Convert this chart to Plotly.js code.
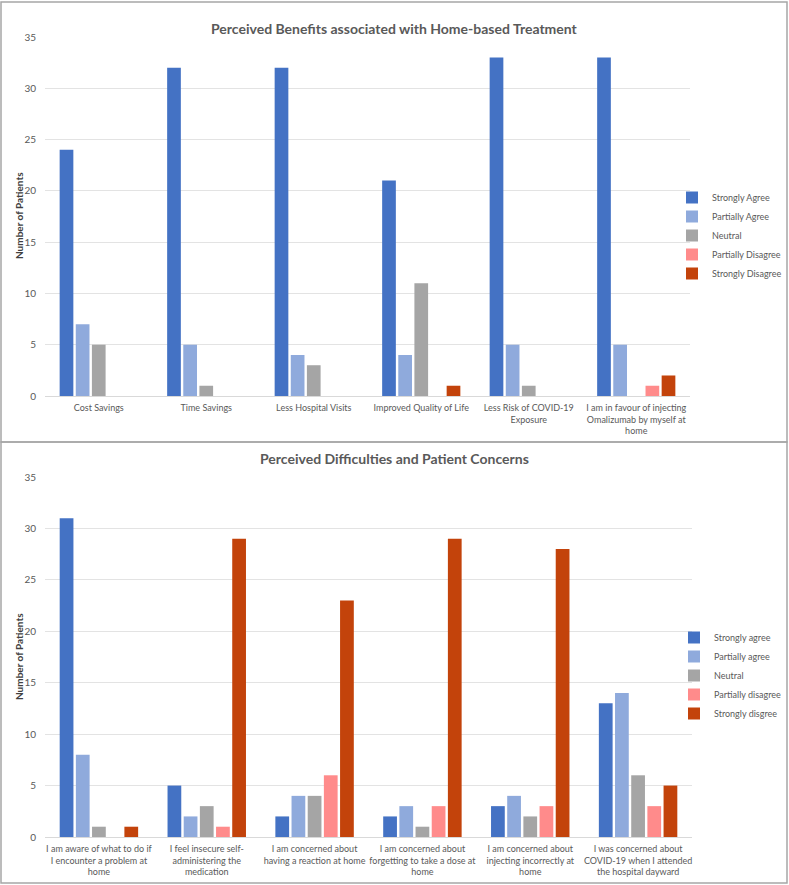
<!DOCTYPE html>
<html>
<head>
<meta charset="utf-8">
<script src="https://cdn.plot.ly/plotly-3.0.1.min.js"></script>
<style>
  body { margin: 0; background: #fff; }
  #chart { width: 789px; height: 885px; }
</style>
</head>
<body>
<div id="chart"></div>
<script>
  // Top chart: perceived benefits
  var benefitCats = [
    "Cost Savings",
    "Time Savings",
    "Less Hospital Visits",
    "Improved Quality of Life",
    "Less Risk of COVID-19<br>Exposure",
    "I am in favour of injecting<br>Omalizumab by myself at<br>home"
  ];
  var benefitNames = ["Strongly Agree", "Partially Agree", "Neutral", "Partially Disagree", "Strongly Disagree"];
  var benStronglyAgree = [24, 32, 32, 21, 33, 33];
  var benPartiallyAgree = [7, 5, 4, 4, 5, 5];
  var benNeutral = [5, 1, 3, 11, 1, 0];
  var benPartiallyDisagree = [0, 0, 0, 0, 0, 1];
  var benStronglyDisagree = [0, 0, 0, 1, 0, 2];

  // Bottom chart: difficulties and concerns
  var concernCats = [
    "I am aware of what to do if<br>I encounter a problem at<br>home",
    "I feel insecure self-<br>administering the<br>medication",
    "I am concerned about<br>having a reaction at home",
    "I am concerned about<br>forgetting to take a dose at<br>home",
    "I am concerned about<br>injecting incorrectly at<br>home",
    "I was concerned about<br>COVID-19 when I attended<br>the hospital dayward"
  ];
  var concernNames = ["Strongly agree", "Partially agree", "Neutral", "Partially disagree", "Strongly disgree"];
  var conStronglyAgree = [31, 5, 2, 2, 3, 13];
  var conPartiallyAgree = [8, 2, 4, 3, 4, 14];
  var conNeutral = [1, 3, 4, 1, 2, 6];
  var conPartiallyDisagree = [0, 1, 6, 3, 3, 3];
  var conStronglyDisagree = [1, 29, 23, 29, 28, 5];

  var colors = ["#4472C4", "#8FAADC", "#A5A5A5", "#FF8B8B", "#C3430B"];
  var font = "Lato, 'Open Sans', sans-serif";

  var benValues = [benStronglyAgree, benPartiallyAgree, benNeutral, benPartiallyDisagree, benStronglyDisagree];
  var conValues = [conStronglyAgree, conPartiallyAgree, conNeutral, conPartiallyDisagree, conStronglyDisagree];

  var traces = [];
  for (let i = 0; i < 5; i++){
    traces.push({
      type: "bar", x: benefitCats, y: benValues[i], name: benefitNames[i],
      marker: {color: colors[i]}, xaxis: "x", yaxis: "y", legend: "legend",
      hoverinfo: "x+y+name"
    });
  }
  for (let i = 0; i < 5; i++){
    traces.push({
      type: "bar", x: concernCats, y: conValues[i], name: concernNames[i],
      marker: {color: colors[i]}, xaxis: "x2", yaxis: "y2", legend: "legend2",
      hoverinfo: "x+y+name"
    });
  }

  var W = 789, H = 885;
  function px(x){ return x / W; }
  function py(y){ return 1 - y / H; }

  var yax = {
    range: [0, 35], dtick: 5, showgrid: true, gridcolor: "#E3E3E3",
    zeroline: false, showline: false, ticks: "", ticklabelstandoff: 8,
    tickfont: {family: font, size: 10, color: "#595959"}
  };
  var xax = {
    showline: true, linecolor: "#D9D9D9", linewidth: 1, ticks: "",
    tickfont: {family: font, size: 9, color: "#595959"}, ticklabelstandoff: 3
  };
  var legendBase = {
    font: {family: font, size: 9, color: "#595959"},
    bgcolor: "rgba(0,0,0,0)", itemclick: false, tracegroupgap: 0
  };
  var titleFont = {family: font, size: 14, color: "#595959", weight: "bold"};
  var yTitleFont = {family: font, size: 10, color: "#404040", weight: "bold"};

  const layout = {
    width: W, height: H,
    margin: {l: 0, r: 0, t: 0, b: 0},
    paper_bgcolor: "#fff", plot_bgcolor: "#fff",
    barmode: "group", bargap: 0.25, bargroupgap: 0.15,
    showlegend: true,
    xaxis: Object.assign({}, xax, {domain: [px(45), px(690)], anchor: "y"}),
    yaxis: Object.assign({}, yax, {domain: [py(396), py(37)], anchor: "x"}),
    xaxis2: Object.assign({}, xax, {domain: [px(45), px(692)], anchor: "y2"}),
    yaxis2: Object.assign({}, yax, {domain: [py(837), py(477)], anchor: "x2"}),
    legend: Object.assign({}, legendBase, {x: px(672), y: py(183), xanchor: "left", yanchor: "top"}),
    legend2: Object.assign({}, legendBase, {x: px(674), y: py(623), xanchor: "left", yanchor: "top"}),
    annotations: [
      {text: "Perceived Benefits associated with Home-based Treatment", xref: "paper", yref: "paper",
       x: 0.5, y: py(18), showarrow: false, font: titleFont},
      {text: "Perceived Difficulties and Patient Concerns", xref: "paper", yref: "paper",
       x: 0.5, y: py(458), showarrow: false, font: titleFont},
      // y-axis titles
      {text: "Number of Patients", xref: "paper", yref: "paper", textangle: -90,
       xanchor: "center", yanchor: "middle",
       x: px(19), y: py(216), showarrow: false, font: yTitleFont},
      {text: "Number of Patients", xref: "paper", yref: "paper", textangle: -90,
       xanchor: "center", yanchor: "middle",
       x: px(19), y: py(657), showarrow: false, font: yTitleFont}
    ],
    shapes: [
      {type: "rect", xref: "paper", yref: "paper", x0: px(1), x1: px(787), y0: py(442), y1: py(2),
       line: {color: "#A6A6A6", width: 1.5}},
      {type: "rect", xref: "paper", yref: "paper", x0: px(1), x1: px(787), y0: py(883), y1: py(442),
       line: {color: "#A6A6A6", width: 1.5}}
    ]
  };

  const config = {displaylogo: false, responsive: false, displayModeBar: false};

  Plotly.newPlot("chart", traces, layout, config);
</script>
</body>
</html>
